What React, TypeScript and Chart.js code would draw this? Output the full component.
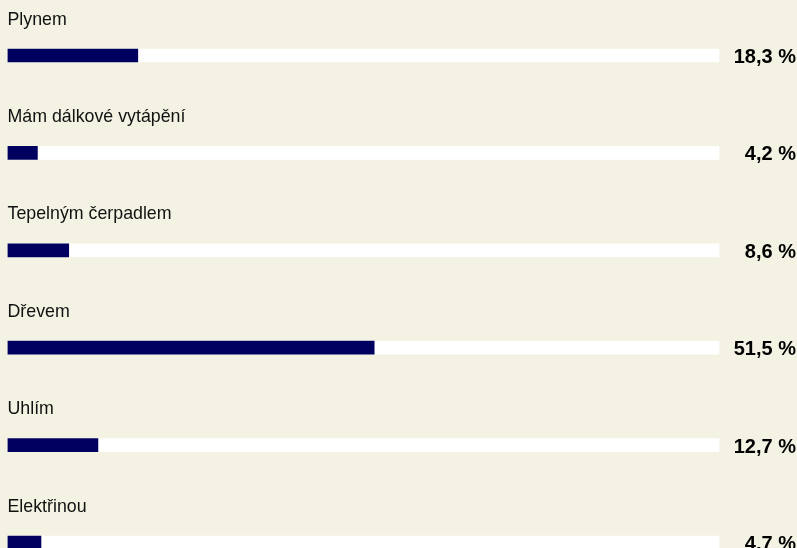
import React, { useEffect, useRef } from "react";
import { Chart, registerables } from "chart.js";

Chart.register(...registerables);

const categories = [
  "Plynem",
  "Mám dálkové vytápění",
  "Tepelným čerpadlem",
  "Dřevem",
  "Uhlím",
  "Elektřinou",
];
const percentValues = [18.3, 4.2, 8.6, 51.5, 12.7, 4.7];
const trackValues = [100, 100, 100, 100, 100, 100];

const labelPlugin = {
  id: "pollLabels",
  afterDatasetsDraw(chart: any) {
    const ctx = chart.ctx;
    const yScale = chart.scales.y;
    const area = chart.chartArea;
    ctx.save();
    categories.forEach((cat, i) => {
      const yc = yScale.getPixelForValue(i);
      ctx.fillStyle = "#111111";
      ctx.font = "17.8px 'Liberation Sans', Arial, sans-serif";
      ctx.textAlign = "left";
      ctx.textBaseline = "alphabetic";
      ctx.fillText(cat, area.left, yc - 31);
      ctx.fillStyle = "#000000";
      ctx.font = "bold 20px 'Liberation Sans', Arial, sans-serif";
      ctx.textAlign = "right";
      const txt = percentValues[i].toFixed(1).replace(".", ",") + " %";
      ctx.fillText(txt, chart.width - 1, yc + 7.5);
    });
    ctx.restore();
  },
};

export default function App() {
  const ref = useRef<HTMLCanvasElement | null>(null);
  useEffect(() => {
    document.body.style.margin = "0";
    document.body.style.background = "#f4f2e3";
    const chart = new Chart(ref.current as HTMLCanvasElement, {
      type: "bar",
      data: {
        labels: categories,
        datasets: [
          {
            data: percentValues,
            backgroundColor: "#00005f",
            borderWidth: 0,
            barThickness: 13,
            grouped: false,
          } as any,
          {
            data: trackValues,
            backgroundColor: "#ffffff",
            borderWidth: 0,
            barThickness: 13,
            grouped: false,
          } as any,
        ],
      },
      options: {
        indexAxis: "y",
        animation: false,
        responsive: false,
        maintainAspectRatio: false,
        layout: { padding: { left: 7.5, right: 77.5, top: 6.8, bottom: 8.8 } },
        plugins: {
          legend: { display: false },
          tooltip: { enabled: false },
        },
        scales: {
          x: { display: false, min: 0, max: 100 },
          y: { display: false },
        },
      },
      plugins: [labelPlugin],
    });
    return () => chart.destroy();
  }, []);
  return (
    <div style={{ width: 797, height: 548, overflow: "hidden", background: "#f4f2e3" }}>
      <canvas ref={ref} width={797} height={600} style={{ display: "block" }} />
    </div>
  );
}
